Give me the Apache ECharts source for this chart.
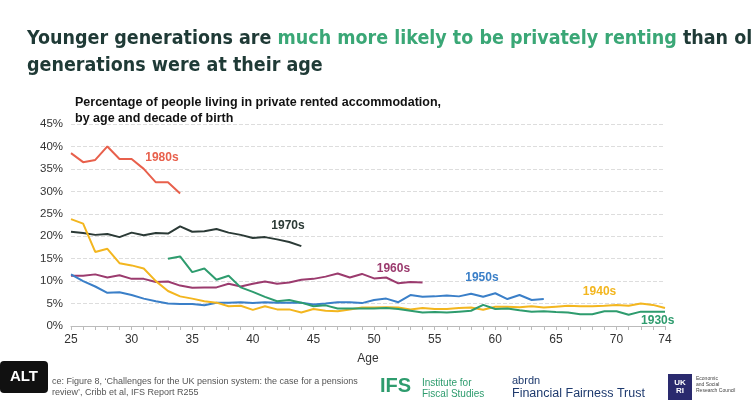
<!DOCTYPE html>
<html><head><meta charset="utf-8">
<script src="https://cdn.jsdelivr.net/npm/echarts@6/dist/echarts.min.js"></script>
<style>body{margin:0;background:#fff}#c{width:753px;height:411px}</style>
</head><body><div id="c"></div>
<script>
var ages = [];
for (var a = 25; a <= 74; a++) ages.push(a);
var s1980 = [38.5,36.5,37,40,37.2,37.2,35,32,32,29.5];
var s1970 = [21,20.7,20.3,20.5,19.8,20.8,20.2,20.7,20.6,22.2,21,21.1,21.6,20.8,20.3,19.6,19.8,19.3,18.7,17.8];
var s1960 = [11.2,11.2,11.5,10.8,11.3,10.5,10.5,9.8,9.9,9,8.5,8.6,8.6,9.4,8.8,9.4,9.9,9.4,9.7,10.3,10.5,11,11.7,10.8,11.6,10.6,10.8,9.5,9.8,9.7];
var s1950 = [11.5,10,8.8,7.4,7.5,6.9,6.1,5.5,5,4.9,4.9,4.6,5.2,5.2,5.3,5.1,5.3,5.2,5.2,5.2,4.8,5,5.3,5.3,5.1,5.8,6.1,5.3,6.9,6.5,6.6,6.8,6.6,7.2,6.5,7.3,6,6.9,5.8,6];
var s1940 = [23.8,22.8,16.5,17.2,14,13.5,12.8,10,7.8,6.6,6.1,5.5,5.2,4.4,4.5,3.6,4.4,3.7,3.7,3,3.8,3.4,3.3,3.7,4.1,4.1,4.2,4.1,3.7,4,3.8,3.8,4,4.1,3.6,4.3,4.3,4.2,4.4,4.1,4.3,4.5,4.4,4.4,4.5,4.7,4.5,5,4.7,4];
var s1930 = [null,null,null,null,null,null,null,null,15,15.5,12,12.8,10.3,11.2,8.6,7.6,6.5,5.5,5.8,5.2,4.4,4.6,3.9,3.9,3.9,3.9,4,3.8,3.4,3.0,3.1,3.0,3.2,3.4,4.7,3.8,3.9,3.5,3.2,3.3,3.1,3.0,2.6,2.6,3.3,3.3,2.5,3.2,3.2,3.2];
var xTicks = [25,30,35,40,45,50,55,60,65,70,74];

var cohorts = [
  {name:'1980s', data:s1980, color:'#e8604c', lx:32.5, ly:37.4},
  {name:'1970s', data:s1970, color:'#2b3a36', lx:42.9, ly:22.3},
  {name:'1960s', data:s1960, color:'#9b3b6e', lx:51.6, ly:12.7},
  {name:'1950s', data:s1950, color:'#3a7fc8', lx:58.9, ly:10.7},
  {name:'1940s', data:s1940, color:'#f3b61f', lx:68.6, ly:7.6},
  {name:'1930s', data:s1930, color:'#2e9c6e', lx:73.4, ly:1.1}
];

var series = cohorts.map(function (c) {
  return {
    name: c.name, type: 'line', data: c.data.map(function (v, i) { return [25 + i, v]; }),
    showSymbol: false, lineStyle: {color: c.color, width: 2}, itemStyle: {color: c.color}
  };
});

var chart = echarts.init(document.getElementById('c'));
chart.setOption({
  animation: false,
  grid: {left: 71, right: 88, top: 124, bottom: 85},
  title: [{
    left: 22, top: 20,
    text: '{d|Younger generations are }{g|much more likely to be privately renting}{d| than older}\n{d|generations were at their age}',
    textStyle: {rich: {
      d: {fontFamily: 'DejaVu Sans Condensed', fontSize: 19.5, color: '#1f3a36', lineHeight: 27},
      g: {fontFamily: 'DejaVu Sans Condensed', fontSize: 19.5, color: '#3aa776', lineHeight: 27}
    }}
  }, {
    left: 70, top: 90,
    text: 'Percentage of people living in private rented accommodation,\nby age and decade of birth',
    textStyle: {fontFamily: 'Liberation Sans', fontSize: 12.5, fontWeight: 'bold', color: '#111', lineHeight: 16}
  }],
  xAxis: {
    type: 'value', min: 25, max: 74, name: 'Age', nameLocation: 'middle', nameGap: 27,
    nameTextStyle: {fontFamily: 'Liberation Sans', fontSize: 12, color: '#333'},
    customValues: xTicks,
    axisTick: {show: true, customValues: ages, length: 4, lineStyle: {color: '#bbb'}},
    axisLabel: {customValues: xTicks, fontFamily: 'Liberation Sans', fontSize: 12, color: '#333'},
    axisLine: {lineStyle: {color: '#bbb'}}, splitLine: {show: false}
  },
  yAxis: {
    type: 'value', min: 0, max: 45, interval: 5,
    axisLabel: {formatter: '{value}%', fontFamily: 'Liberation Sans', fontSize: 11.5, color: '#333'},
    axisLine: {show: false}, axisTick: {show: false},
    splitLine: {lineStyle: {type: 'dashed', color: '#ddd'}}
  },
  series: series
});

var g = cohorts.map(function (c) {
  var p = chart.convertToPixel({gridIndex: 0}, [c.lx, c.ly]);
  return {type: 'text', x: p[0], y: p[1], style: {text: c.name, fill: c.color,
    font: 'bold 12px Liberation Sans', textAlign: 'center', textVerticalAlign: 'middle'}};
});
g.push(
  {type: 'rect', shape: {x: 0, y: 361, width: 48, height: 32, r: 4}, style: {fill: '#111'}},
  {type: 'text', x: 24, y: 377, style: {text: 'ALT', fill: '#fff', font: 'bold 15px Liberation Sans', textAlign: 'center', textVerticalAlign: 'middle'}},
  {type: 'text', x: 52, y: 376, style: {text: 'ce: Figure 8, \u2018Challenges for the UK pension system: the case for a pensions\nreview\u2019, Cribb et al, IFS Report R255', fill: '#555', font: '9px Liberation Sans', lineHeight: 11}},
  {type: 'text', x: 380, y: 376, style: {text: 'IFS', fill: '#2e9c6e', font: 'bold 20px Liberation Sans'}},
  {type: 'text', x: 422, y: 378, style: {text: 'Institute for\nFiscal Studies', fill: '#2e9c6e', font: '10px Liberation Sans', lineHeight: 11}},
  {type: 'text', x: 512, y: 375, style: {text: 'abrdn', fill: '#1e3a6e', font: '11px Liberation Sans'}},
  {type: 'text', x: 512, y: 387, style: {text: 'Financial Fairness Trust', fill: '#1e3a6e', font: '12.5px Liberation Sans'}},
  {type: 'rect', shape: {x: 668, y: 374, width: 24, height: 26}, style: {fill: '#2a2a6e'}},
  {type: 'text', x: 680, y: 387, style: {text: 'UK\nRI', fill: '#fff', font: 'bold 8px Liberation Sans', textAlign: 'center', textVerticalAlign: 'middle'}},
  {type: 'text', x: 696, y: 376, style: {text: 'Economic\nand Social\nResearch Council', fill: '#444', font: '5px Liberation Sans', lineHeight: 6}}
);
chart.setOption({graphic: g});
</script></body></html>
